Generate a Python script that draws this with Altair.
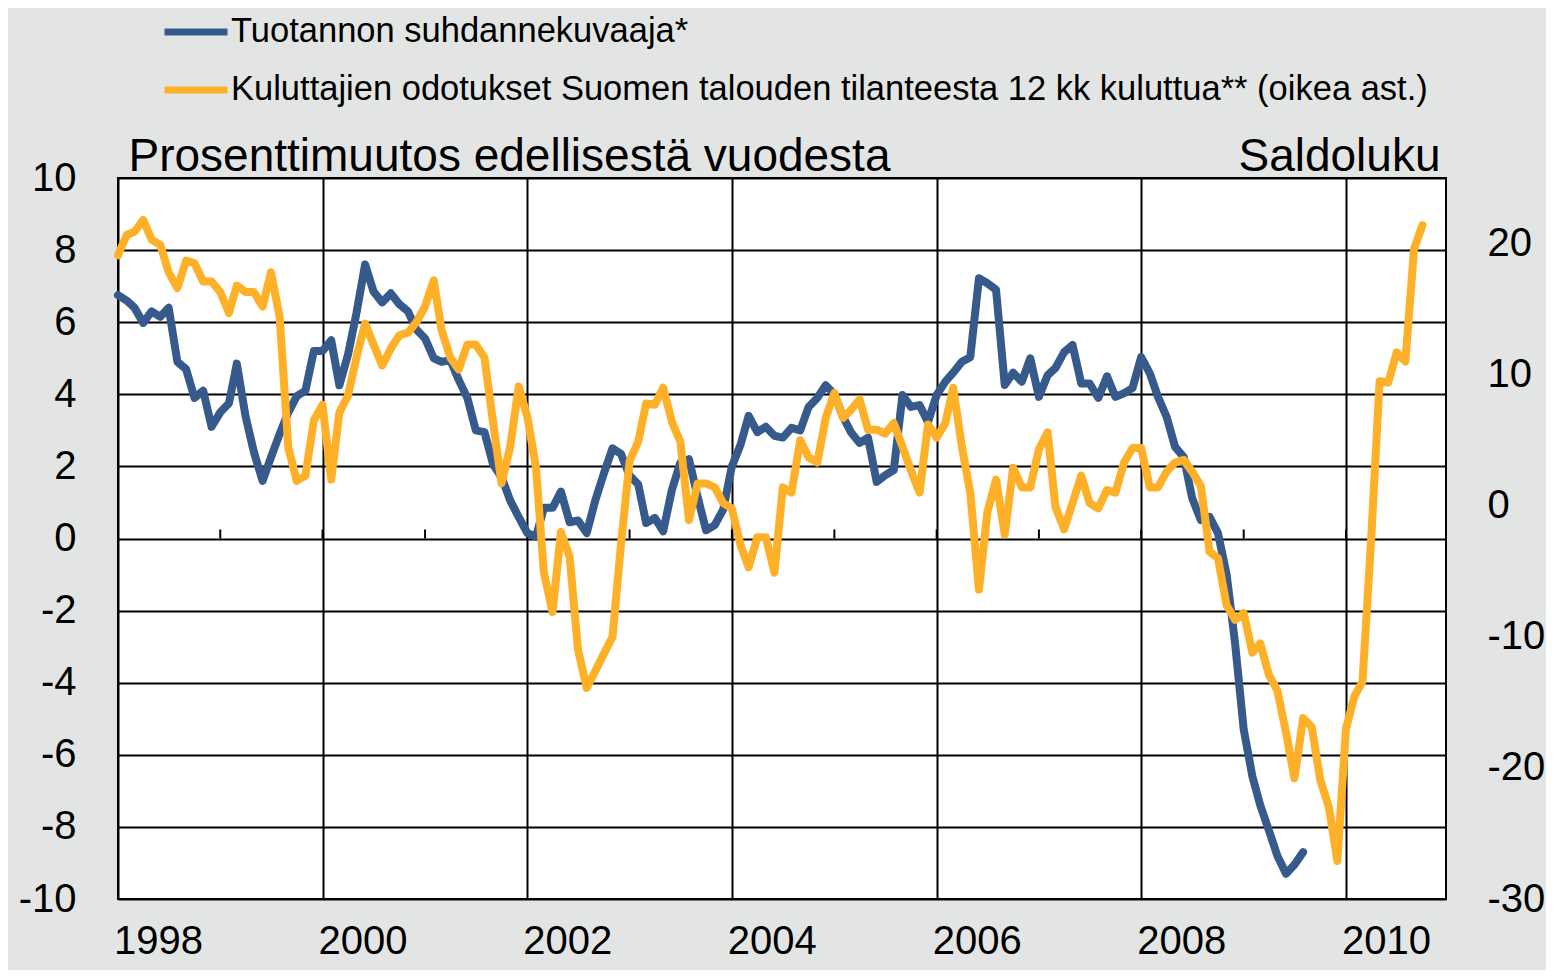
import altair as alt
import pandas as pd

FONT = "Liberation Sans"
BLUE = "#375a8c"
ORANGE = "#feb128"
BG = "#e3e5e4"

blue_name = "Tuotannon suhdannekuvaaja*"
orange_name = "Kuluttajien odotukset Suomen talouden tilanteesta 12 kk kuluttua** (oikea ast.)"
left_title = "Prosenttimuutos edellisestä vuodesta"
right_title = "Saldoluku"

# monthly values starting January 1998
blue_values = [
    6.75, 6.6, 6.4, 5.98, 6.3, 6.15, 6.4, 4.9, 4.7, 3.9, 4.1, 3.1,
    3.5, 3.75, 4.85, 3.4, 2.4, 1.6, 2.25, 2.9, 3.5, 3.95, 4.1, 5.2,
    5.2, 5.5, 4.25, 5.1, 6.25, 7.6, 6.85, 6.55, 6.8, 6.5, 6.3, 5.8,
    5.55, 5.0, 4.9, 4.95, 4.4, 3.9, 3.0, 2.95, 2.05, 1.7, 1.05, 0.6,
    0.15, 0.05, 0.85, 0.85, 1.3, 0.45, 0.5, 0.15, 1.07, 1.8, 2.5, 2.35,
    1.75, 1.5, 0.43, 0.57, 0.2, 1.35, 2.1, 2.2, 1.15, 0.23, 0.37, 0.8,
    2.0, 2.6, 3.4, 2.95, 3.1, 2.85, 2.8, 3.07, 3.0, 3.65, 3.9, 4.25,
    4.0, 3.37, 2.95, 2.65, 2.8, 1.57, 1.75, 1.9, 3.98, 3.65, 3.7, 3.23,
    3.98, 4.35, 4.6, 4.9, 5.03, 7.22, 7.08, 6.9, 4.26, 4.6, 4.35, 5.0,
    3.93, 4.53, 4.73, 5.17, 5.37, 4.3, 4.3, 3.9, 4.5, 3.93, 4.03, 4.17,
    5.03, 4.58, 3.93, 3.37, 2.54, 2.26, 1.12, 0.51, 0.6, 0.15, -1.0, -2.9,
    -5.3, -6.6, -7.4, -8.1, -8.8, -9.3, -9.05, -8.7,
]

orange_values = [
    19.1, 20.65, 20.9, 21.8, 20.3, 19.9, 17.8, 16.6, 18.7, 18.5, 17.1, 17.1,
    16.3, 14.7, 16.8, 16.3, 16.3, 15.2, 17.8, 14.4, 4.4, 1.9, 2.3, 6.5,
    7.7, 2.0, 7.1, 8.4, 11.3, 13.9, 12.3, 10.7, 12.0, 13.0, 13.2, 14.0,
    15.2, 17.2, 13.4, 11.3, 10.4, 12.3, 12.3, 11.3, 6.3, 1.7, 4.5, 9.1,
    6.8, 2.9, -5.1, -8.1, -2.0, -3.9, -11.0, -13.9, -12.6, -11.3, -10.0, -3.0,
    3.4, 4.9, 7.8, 7.7, 9.0, 6.4, 4.9, -1.1, 1.7, 1.7, 1.4, 0.2,
    -0.2, -3.0, -4.7, -2.4, -2.4, -5.1, 1.4, 1.0, 5.0, 3.7, 3.3, 6.7,
    8.6, 6.7, 7.3, 8.1, 5.8, 5.8, 5.5, 6.3, 4.5, 2.7, 1.0, 6.2,
    5.2, 6.3, 9.0, 4.5, 1.0, -6.4, -0.5, 2.0, -2.2, 2.9, 1.4, 1.4,
    4.3, 5.6, -0.1, -1.8, 0.2, 2.3, 0.2, -0.2, 1.2, 1.0, 3.3, 4.4,
    4.4, 1.4, 1.4, 2.6, 3.3, 3.5, 2.6, 1.5, -3.5, -4.0, -7.6, -8.7,
    -8.2, -11.2, -10.5, -12.9, -14.1, -17.3, -20.8, -16.2, -16.9, -20.9, -23.0, -27.1,
    -17.0, -14.5, -13.4, -2.5, 9.5, 9.4, 11.7, 11.0, 19.6, 21.4,
]

label_years = [1998, 2000, 2002, 2004, 2006, 2008, 2010]
tick_years = list(range(1999, 2011))
left_ticks = [-10, -8, -6, -4, -2, 0, 2, 4, 6, 8, 10]
right_ticks = [-30, -20, -10, 0, 10, 20]

blue_dates = pd.date_range("1998-01-01", periods=len(blue_values), freq="MS").strftime("%Y-%m-%d")
orange_dates = pd.date_range("1998-01-01", periods=len(orange_values), freq="MS").strftime("%Y-%m-%d")

df_blue = pd.DataFrame({"date": list(blue_dates), "value": blue_values, "series": blue_name})
df_orange = pd.DataFrame({"date": list(orange_dates), "value": orange_values, "series": orange_name})
df_ticks = pd.DataFrame({"date": [f"{y}-01-01" for y in tick_years]})

x_scale = alt.Scale(
    type="utc",
    domain=[alt.DateTime(year=1998, month=1, date=1, utc=True),
            alt.DateTime(year=2010, month=12, date=24, utc=True)],
)
x_axis = alt.Axis(
    values=[alt.DateTime(year=y, month=1, date=1, utc=True) for y in label_years],
    format="%Y", grid=True, gridColor="black", gridWidth=2, gridOpacity=1,
    domain=False, ticks=False, labelFlush=False, labelOverlap=False, labelBound=False,
    labelOffset=40, labelPadding=22, labelFontSize=40, labelFont=FONT, labelColor="black",
    labelBaseline="top", title=None,
)


def xenc():
    return alt.X("date:T", scale=x_scale, axis=x_axis)


left_scale = alt.Scale(domain=[-10, 10], nice=False, zero=False)
left_axis = alt.Axis(
    orient="left", values=left_ticks, labelExpr="datum.value + ''",
    grid=True, gridColor="black", gridWidth=2, gridOpacity=1,
    domain=False, ticks=False, labelPadding=42, labelFontSize=40, labelFont=FONT,
    labelColor="black", title=left_title, titleAngle=0, titleAlign="left",
    titleBaseline="alphabetic", titleX=10, titleY=-8, titleFontSize=46,
    titleFont=FONT, titleFontWeight="normal", titleColor="black",
)
right_scale = alt.Scale(domain=[-30, 25], nice=False, zero=False)
right_axis = alt.Axis(
    orient="right", values=right_ticks, labelExpr="datum.value + ''",
    grid=False, domain=False, ticks=False, labelPadding=41, labelFontSize=40,
    labelFont=FONT, labelColor="black", labelAlign="left",
    title=right_title, titleAngle=0, titleAlign="right", titleBaseline="alphabetic",
    titleX=-6, titleY=-8, titleFontSize=46, titleFont=FONT,
    titleFontWeight="normal", titleColor="black",
)

color = alt.Color(
    "series:N",
    scale=alt.Scale(domain=[blue_name, orange_name], range=[BLUE, ORANGE]),
    legend=alt.Legend(
        orient="none", legendX=43, legendY=-181, direction="vertical", title=None,
        symbolType="stroke", symbolSize=3969, symbolStrokeWidth=7,
        labelFontSize=34.5, labelFont=FONT, labelColor="black", labelLimit=1400,
        labelOffset=0, rowPadding=6, padding=0,
    ),
)

ticks = alt.Chart(df_ticks).mark_rule(color="black", strokeWidth=2, y2Offset=-9).encode(
    x=xenc(),
    y=alt.YDatum(0, type="quantitative", scale=left_scale, axis=left_axis),
    y2=alt.Y2Datum(0),
)

blue = alt.Chart(df_blue).mark_line(strokeWidth=8, strokeJoin="round", strokeCap="round").encode(
    x=xenc(),
    y=alt.Y("value:Q", scale=left_scale, axis=left_axis),
    color=color,
)

orange = alt.Chart(df_orange).mark_line(strokeWidth=8, strokeJoin="round", strokeCap="round").encode(
    x=xenc(),
    y=alt.Y("value:Q", scale=right_scale, axis=right_axis),
    color=color,
)

left_layer = alt.layer(ticks, blue)

chart = alt.layer(left_layer, orange).resolve_scale(y="independent").properties(
    width=1328, height=721,
    padding={"left": 110, "top": 170, "right": 100, "bottom": 71},
    autosize=alt.AutoSizeParams(type="none"),
    background=BG,
).configure_view(fill="white", stroke="black", strokeWidth=2)

chart.save("out.html", embed_options={"renderer": "svg", "actions": False})
